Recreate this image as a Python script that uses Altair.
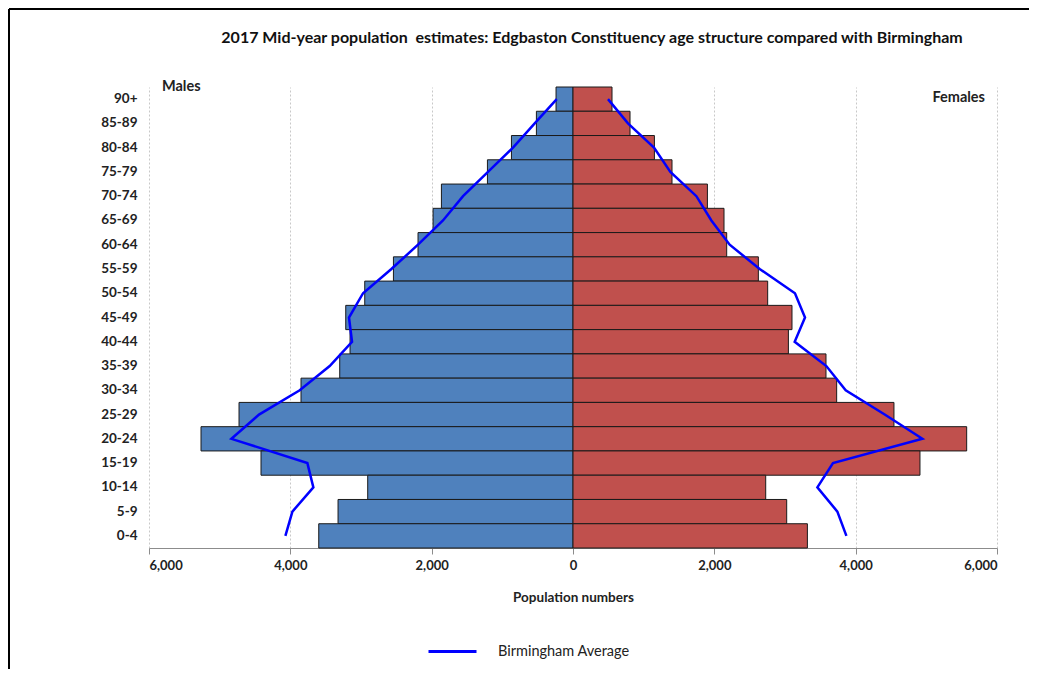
import altair as alt
import pandas as pd

ages = ["90+", "85-89", "80-84", "75-79", "70-74", "65-69", "60-64", "55-59",
        "50-54", "45-49", "40-44", "35-39", "30-34", "25-29", "20-24", "15-19",
        "10-14", "5-9", "0-4"]
male = [240, 518, 871, 1211, 1862, 1980, 2193, 2541, 2947, 3216, 3155, 3301,
        3849, 4726, 5264, 4415, 2905, 3325, 3598]
female = [552, 807, 1152, 1401, 1902, 2137, 2175, 2623, 2755, 3099, 3048, 3580,
          3731, 4542, 5571, 4910, 2727, 3024, 3317]
bham_male = [230, 542, 849, 1203, 1556, 1840, 2193, 2570, 2971, 3170, 3127, 3443,
             3867, 4443, 4834, 3759, 3674, 3971, 4070]
bham_female = [495, 778, 1146, 1378, 1746, 1958, 2217, 2642, 3141, 3283, 3137,
               3585, 3859, 4411, 4944, 3679, 3458, 3741, 3869]
x_ticks = [-6000, -4000, -2000, 0, 2000, 4000, 6000]

title_text = "2017 Mid-year population\u00a0 estimates: Edgbaston Constituency age structure compared with Birmingham"
FONT = "Lato"

bars = pd.DataFrame({"age": ages * 2,
                     "sex": ["Males"] * len(ages) + ["Females"] * len(ages),
                     "value": [-v for v in male] + female})
lines = pd.DataFrame({"age": ages * 2,
                      "sex": ["Males"] * len(ages) + ["Females"] * len(ages),
                      "value": [-v for v in bham_male] + bham_female,
                      "idx": list(range(len(ages))) * 2,
                      "series": ["Birmingham Average"] * (2 * len(ages))})

W, H = 848, 461

x_enc = alt.X("value:Q",
              scale=alt.Scale(domain=[-6000, 6000], nice=False, zero=False),
              axis=alt.Axis(values=x_ticks,
                            labelExpr="format(abs(datum.value), ',')",
                            title="Population numbers",
                            grid=True, gridColor="#c8c8c8", gridDash=[2, 2],
                            domainColor="#8c8c8c", tickColor="#8c8c8c", tickSize=6,
                            labelFont=FONT, labelFontSize=13, labelFontWeight="bold",
                            labelColor="#222222", labelPadding=5,
                            titleFont=FONT, titleFontSize=13.5, titleFontWeight="bold",
                            titleColor="#222222", titlePadding=18))
y_enc = alt.Y("age:N", sort=ages,
              scale=alt.Scale(paddingInner=0, paddingOuter=0),
              axis=alt.Axis(title=None, domain=False, ticks=False, grid=False,
                            labelFont=FONT, labelFontSize=13.5, labelFontWeight="bold",
                            labelColor="#222222", labelPadding=12))

base_bars = alt.Chart(bars)
male_bars = base_bars.transform_filter(alt.datum.sex == "Males").mark_bar(
    color="#4F81BD", stroke="#1a1a1a", strokeWidth=1).encode(x=x_enc, y=y_enc)
female_bars = base_bars.transform_filter(alt.datum.sex == "Females").mark_bar(
    color="#C0504D", stroke="#1a1a1a", strokeWidth=1).encode(x=x_enc, y=y_enc)

line_layer = alt.Chart(lines).mark_line(strokeWidth=2.5).encode(
    x="value:Q",
    y=alt.Y("age:N", sort=ages),
    detail="sex:N",
    order="idx:Q",
    color=alt.Color("series:N",
                    scale=alt.Scale(domain=["Birmingham Average"], range=["#0000FF"]),
                    legend=alt.Legend(title=None, orient="none", legendX=278, legendY=539,
                                      symbolType="stroke", symbolSize=2304,
                                      symbolStrokeWidth=3, labelOffset=20,
                                      labelFont=FONT, labelFontSize=14.5,
                                      labelColor="#222222", padding=0)))

one = pd.DataFrame({"t": [title_text], "m": ["Males"], "f": ["Females"]})
title_mark = alt.Chart(one).mark_text(font=FONT, fontSize=16, fontWeight="bold",
                                      color="#111111", align="center",
                                      baseline="alphabetic").encode(
    text="t:N", x=alt.value(443), y=alt.value(-44))
males_lbl = alt.Chart(one).mark_text(font=FONT, fontSize=14.5, fontWeight="bold",
                                     color="#222222", align="left",
                                     baseline="alphabetic").encode(
    text="m:N", x=alt.value(13), y=alt.value(4))
females_lbl = alt.Chart(one).mark_text(font=FONT, fontSize=14.5, fontWeight="bold",
                                       color="#222222", align="right",
                                       baseline="alphabetic").encode(
    text="f:N", x=alt.value(836), y=alt.value(15))
border_top = alt.Chart(one).mark_rule(stroke="#000000", strokeWidth=2).encode(
    x=alt.value(-140), x2=alt.value(1000), y=alt.value(-78))
border_left = alt.Chart(one).mark_rule(stroke="#000000", strokeWidth=2).encode(
    x=alt.value(-140), y=alt.value(-78), y2=alt.value(700))

chart = alt.layer(male_bars, female_bars, line_layer, title_mark, males_lbl,
                  females_lbl, border_top, border_left).properties(
    width=W, height=H,
    autosize=alt.AutoSizeParams(type="none"),
    padding={"left": 141, "top": 79, "right": 32, "bottom": 121},
    background="white",
).configure_view(stroke=None)

chart.save("out.html", embed_options={"renderer": "svg", "actions": False})
